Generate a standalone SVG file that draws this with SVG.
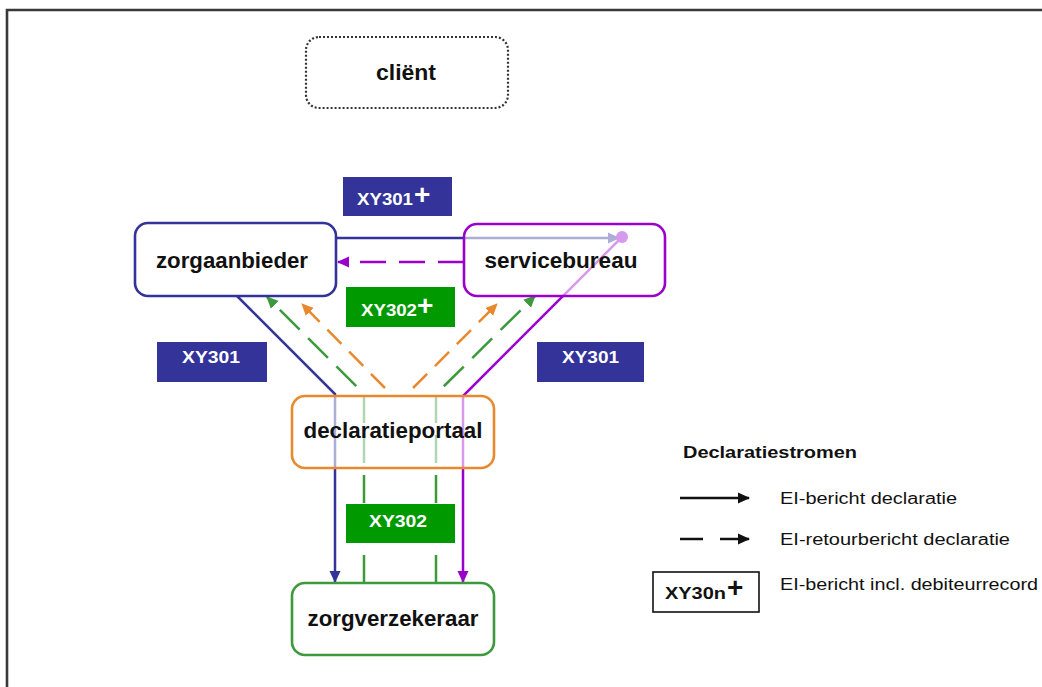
<svg xmlns="http://www.w3.org/2000/svg" width="1042" height="687" viewBox="0 0 1042 687">
<style>
.node{fill:#fff;fill-opacity:0.6;stroke-width:2.6}
.nt{font-family:"Liberation Sans",Arial,sans-serif;font-weight:bold;font-size:22px;fill:#111}
.lt{font-family:"Liberation Sans",Arial,sans-serif;font-weight:bold;font-size:17px;fill:#fff}
.plus{font-size:28px}
.leg{font-family:"Liberation Sans",Arial,sans-serif;font-size:16px;fill:#111}
.c{fill:none;stroke-width:2.5}
</style>
<defs>
<marker id="aNavy" markerWidth="13" markerHeight="13" refX="11" refY="6.5" orient="auto" markerUnits="userSpaceOnUse"><path d="M0,1 L12,6.5 L0,12 Z" fill="#333399"/></marker>
<marker id="aPurple" markerWidth="13" markerHeight="13" refX="11" refY="6.5" orient="auto" markerUnits="userSpaceOnUse"><path d="M0,1 L12,6.5 L0,12 Z" fill="#9900CC"/></marker>
<marker id="aGreen" markerWidth="13" markerHeight="13" refX="11" refY="6.5" orient="auto" markerUnits="userSpaceOnUse"><path d="M0,1 L12,6.5 L0,12 Z" fill="#3C9A3C"/></marker>
<marker id="aOrange" markerWidth="13" markerHeight="13" refX="11" refY="6.5" orient="auto" markerUnits="userSpaceOnUse"><path d="M0,1 L12,6.5 L0,12 Z" fill="#E8892E"/></marker>
<marker id="aBlack" markerWidth="13" markerHeight="13" refX="11" refY="6.5" orient="auto" markerUnits="userSpaceOnUse"><path d="M0,1 L12,6.5 L0,12 Z" fill="#111"/></marker>
<marker id="dot" markerWidth="14" markerHeight="14" refX="7" refY="7" orient="auto" markerUnits="userSpaceOnUse"><circle cx="7" cy="7" r="6" fill="#9900CC"/></marker>
</defs>

<rect x="0" y="0" width="1042" height="687" fill="#fff"/>
<path d="M7,690 V10 H1050" fill="none" stroke="#3a3a3a" stroke-width="2.6"/>

<g id="connectors">
  <line class="c" x1="336" y1="238" x2="619" y2="238" stroke="#333399" marker-end="url(#aNavy)"/>
  <line class="c" x1="464" y1="262" x2="338" y2="262" stroke="#9900CC" stroke-dasharray="26 13" marker-end="url(#aPurple)"/>
  <path class="c" d="M237,296 L335,394 V582" stroke="#333399" marker-end="url(#aNavy)"/>
  <path class="c" d="M622,237 L463,396 V582" stroke="#9900CC" marker-start="url(#dot)" marker-end="url(#aPurple)"/>
  <path class="c" d="M364,583 V394 L267,297" stroke="#3C9A3C" stroke-dasharray="28 12" marker-end="url(#aGreen)"/>
  <path class="c" d="M436,583 V394 L535,296" stroke="#3C9A3C" stroke-dasharray="28 12" marker-end="url(#aGreen)"/>
  <line class="c" x1="385" y1="388" x2="302" y2="304" stroke="#E8892E" stroke-dasharray="20 11" marker-end="url(#aOrange)"/>
  <line class="c" x1="413" y1="388" x2="497" y2="304" stroke="#E8892E" stroke-dasharray="20 11" marker-end="url(#aOrange)"/>
</g>

<g id="client">
  <rect x="306" y="37" width="202" height="71" rx="13" fill="#fff" stroke="#333" stroke-width="2.2" stroke-dasharray="2 2"/>
  <text class="nt" x="406" y="80" text-anchor="middle" textLength="60" lengthAdjust="spacingAndGlyphs">cliënt</text>
</g>
<g id="zorgaanbieder">
  <rect class="node" x="135" y="223" width="201" height="73" rx="13" stroke="#333399"/>
  <text class="nt" x="232" y="268" text-anchor="middle" textLength="152" lengthAdjust="spacingAndGlyphs">zorgaanbieder</text>
</g>
<g id="servicebureau">
  <rect class="node" x="464" y="224" width="201" height="72" rx="13" stroke="#9900CC"/>
  <text class="nt" x="561" y="268" text-anchor="middle" textLength="153" lengthAdjust="spacingAndGlyphs">servicebureau</text>
</g>
<g id="declaratieportaal">
  <rect class="node" x="292" y="396" width="202" height="72" rx="13" stroke="#E8892E"/>
  <text class="nt" x="393" y="438" text-anchor="middle" textLength="179" lengthAdjust="spacingAndGlyphs">declaratieportaal</text>
</g>
<g id="zorgverzekeraar">
  <rect class="node" x="292" y="583" width="202" height="72" rx="13" stroke="#3C9A3C"/>
  <text class="nt" x="393" y="626" text-anchor="middle" textLength="171" lengthAdjust="spacingAndGlyphs">zorgverzekeraar</text>
</g>

<g id="label-xy301plus-top">
  <rect x="343" y="177" width="109" height="39" fill="#333399"/>
  <text class="lt" x="357" y="205" textLength="56" lengthAdjust="spacingAndGlyphs">XY301</text>
  <text class="lt plus" x="414" y="204">+</text>
</g>
<g id="label-xy302plus">
  <rect x="346" y="287" width="109" height="40" fill="#009900"/>
  <text class="lt" x="361" y="316" textLength="56" lengthAdjust="spacingAndGlyphs">XY302</text>
  <text class="lt plus" x="417" y="315">+</text>
</g>
<g id="label-xy301-left">
  <rect x="157" y="342" width="110" height="40" fill="#333399"/>
  <text class="lt" x="182" y="363" textLength="58" lengthAdjust="spacingAndGlyphs">XY301</text>
</g>
<g id="label-xy301-right">
  <rect x="537" y="342" width="107" height="40" fill="#333399"/>
  <text class="lt" x="562" y="363" textLength="57" lengthAdjust="spacingAndGlyphs">XY301</text>
</g>
<g id="label-xy302-bottom">
  <rect x="346" y="504" width="109" height="39" fill="#009900"/>
  <text class="lt" x="369" y="527" textLength="58" lengthAdjust="spacingAndGlyphs">XY302</text>
</g>

<g id="legend">
  <text class="leg" x="683" y="458" style="font-weight:bold" textLength="174" lengthAdjust="spacingAndGlyphs">Declaratiestromen</text>
  <line x1="680" y1="498" x2="749" y2="498" stroke="#111" stroke-width="2.5" marker-end="url(#aBlack)"/>
  <text class="leg" x="780" y="504" textLength="177" lengthAdjust="spacingAndGlyphs">EI-bericht declaratie</text>
  <line x1="680" y1="539" x2="703" y2="539" stroke="#111" stroke-width="2.5"/>
  <line x1="720" y1="539" x2="749" y2="539" stroke="#111" stroke-width="2.5" marker-end="url(#aBlack)"/>
  <text class="leg" x="780" y="545" textLength="230" lengthAdjust="spacingAndGlyphs">EI-retourbericht declaratie</text>
  <rect x="653" y="572" width="106" height="40" fill="#fff" stroke="#111" stroke-width="1.6"/>
  <text class="leg" x="665" y="599" style="font-weight:bold;font-size:17px" textLength="61" lengthAdjust="spacingAndGlyphs">XY30n</text>
  <text class="leg" x="727" y="597" style="font-weight:bold;font-size:28px">+</text>
  <text class="leg" x="780" y="590" textLength="258" lengthAdjust="spacingAndGlyphs">EI-bericht incl. debiteurrecord</text>
</g>
</svg>
